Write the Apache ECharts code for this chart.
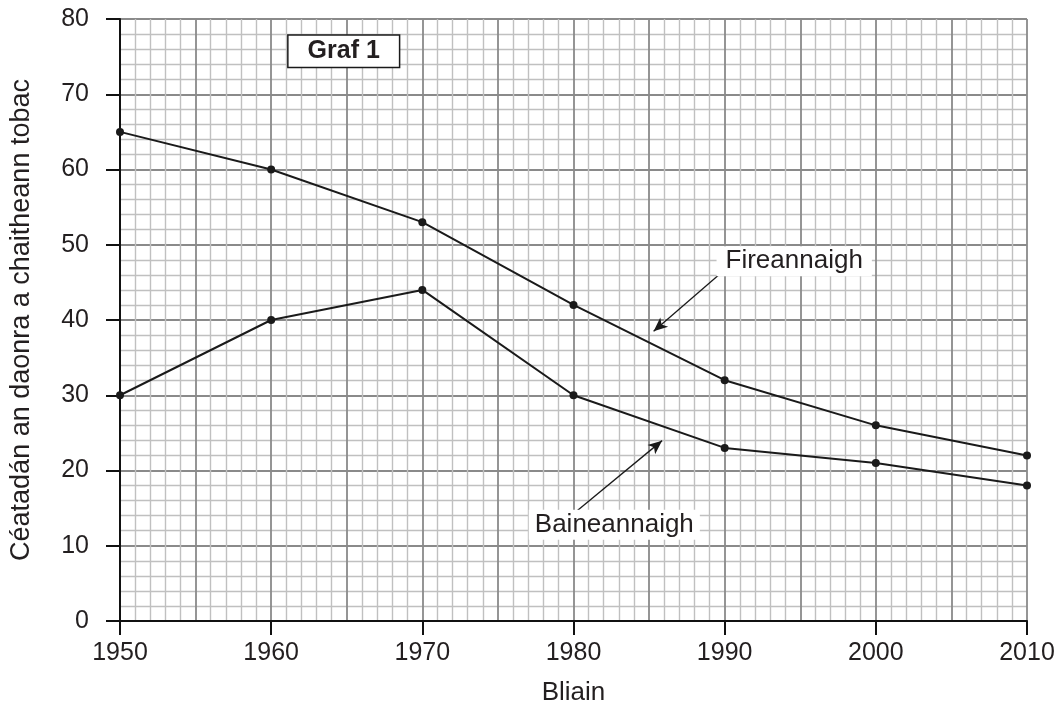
<!DOCTYPE html>
<html><head><meta charset="utf-8">
<script src="https://cdn.jsdelivr.net/npm/echarts@6/dist/echarts.min.js"></script>
<style>html,body{margin:0;padding:0;background:#fff}#c{width:1059px;height:711px}</style>
</head><body><div id="c"></div>
<script>
const years = [1950, 1960, 1970, 1980, 1990, 2000, 2010];
const fireannaigh = [65, 60, 53, 42, 32, 26, 22];
const baineannaigh = [30, 40, 44, 30, 23, 21, 18];
const xTitle = 'Bliain';
const yTitle = 'Céatadán an daonra a chaitheann tobac';
const chartTitle = 'Graf 1';
const labelF = 'Fireannaigh';
const labelB = 'Baineannaigh';
// annotation anchors in data units
const titlePos = [1964.8, 75.7];
const labelFPos = [1994.6, 47.8];
const labelBPos = [1982.7, 12.8];
const arrowF = [[1989.7, 46.15], [1985.3, 38.5]];
const arrowB = [[1980.24, 14.64], [1985.86, 23.97]];

const FONT = '"Liberation Sans", Arial, Helvetica, sans-serif';
const TXT = '#231f20';
const MINOR = '#c0c0c0';
const MAJOR = '#8a8a8a';

const chart = echarts.init(document.getElementById('c'), null, {renderer: 'canvas'});
const pair = (xs, ys) => xs.map((x, i) => [x, ys[i]]);

chart.setOption({
  animation: false,
  backgroundColor: '#fff',
  grid: {left: 119, right: 32, top: 19, bottom: 87, containLabel: false},
  xAxis: [
    {
      type: 'value', min: 1950, max: 2010, interval: 5, position: 'bottom',
      axisLine: {show: false}, axisTick: {show: false}, axisLabel: {show: false},
      splitLine: {show: true, lineStyle: {color: MAJOR, width: 1.8}},
      minorTick: {show: false, splitNumber: 5},
      minorSplitLine: {show: true, lineStyle: {color: MINOR, width: 1.4}}
    },
    {
      type: 'value', min: 1950, max: 2010, interval: 10, position: 'bottom', offset: 0,
      name: xTitle, nameLocation: 'middle', nameGap: 59,
      nameTextStyle: {fontFamily: FONT, fontSize: 26, color: TXT},
      axisLine: {show: true, onZero: false, lineStyle: {color: '#111', width: 2}},
      axisTick: {show: true, inside: false, length: 14, lineStyle: {color: '#111', width: 2}},
      axisLabel: {show: true, margin: 20, fontFamily: FONT, fontSize: 25, color: TXT,
        formatter: v => String(v)},
      splitLine: {show: false}
    }
  ],
  yAxis: {
    type: 'value', min: 0, max: 80, interval: 10,
    name: yTitle, nameLocation: 'middle', nameGap: 85, nameRotate: 90,
    nameTextStyle: {fontFamily: FONT, fontSize: 27, color: TXT},
    axisLine: {show: true, onZero: false, lineStyle: {color: '#111', width: 2}},
    axisTick: {show: true, inside: false, length: 14, lineStyle: {color: '#111', width: 2}},
    axisLabel: {show: true, margin: 31, fontFamily: FONT, fontSize: 25, color: TXT},
    splitLine: {show: true, lineStyle: {color: MAJOR, width: 1.8}},
    minorTick: {show: false, splitNumber: 5},
    minorSplitLine: {show: true, lineStyle: {color: MINOR, width: 1.4}}
  },
  series: [
    {
      name: labelF, type: 'line', xAxisIndex: 0, data: pair(years, fireannaigh),
      symbol: 'circle', symbolSize: 8, itemStyle: {color: '#1a1a1a'},
      lineStyle: {color: '#1a1a1a', width: 2}, z: 5,
      markLine: {
        silent: true, symbol: ['none', 'arrow'], symbolSize: [9, 14],
        label: {show: false},
        lineStyle: {color: '#1a1a1a', width: 1.3, type: 'solid'},
        data: [[{coord: arrowF[0]}, {coord: arrowF[1]}]]
      },
      markPoint: {
        silent: true, symbol: 'rect', symbolSize: 0,
        data: [
          {coord: labelFPos, label: {show: true, position: 'inside', formatter: labelF,
            fontFamily: FONT, fontSize: 26, color: TXT, backgroundColor: '#fff', padding: [2, 9, 2, 9]}},
          {coord: titlePos, label: {show: true, position: 'inside', formatter: chartTitle,
            fontFamily: FONT, fontSize: 25, fontWeight: 'bold', color: TXT, backgroundColor: '#fff',
            borderColor: '#1a1a1a', borderWidth: 1.5, padding: [3, 19, 3, 19]}}
        ]
      }
    },
    {
      name: labelB, type: 'line', xAxisIndex: 0, data: pair(years, baineannaigh),
      symbol: 'circle', symbolSize: 8, itemStyle: {color: '#1a1a1a'},
      lineStyle: {color: '#1a1a1a', width: 2}, z: 5,
      markLine: {
        silent: true, symbol: ['none', 'arrow'], symbolSize: [9, 14],
        label: {show: false},
        lineStyle: {color: '#1a1a1a', width: 1.3, type: 'solid'},
        data: [[{coord: arrowB[0]}, {coord: arrowB[1]}]]
      },
      markPoint: {
        silent: true, symbol: 'rect', symbolSize: 0,
        data: [
          {coord: labelBPos, label: {show: true, position: 'inside', formatter: labelB,
            fontFamily: FONT, fontSize: 26, color: TXT, backgroundColor: '#fff', padding: [2, 6, 2, 6]}}
        ]
      }
    }
  ]
});
</script></body></html>
